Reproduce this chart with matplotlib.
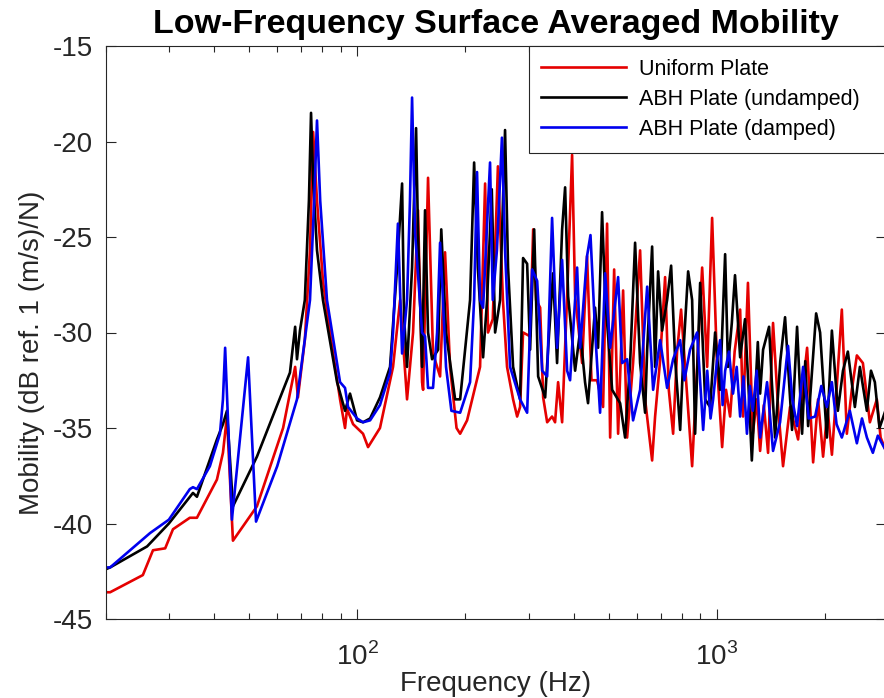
import matplotlib
matplotlib.use("Agg")
import matplotlib.pyplot as plt
from matplotlib.ticker import LogLocator, FixedLocator, FixedFormatter, NullFormatter

plt.rcParams['font.family'] = ['Liberation Sans', 'DejaVu Sans']
plt.rcParams['axes.unicode_minus'] = False
plt.rcParams['mathtext.fontset'] = 'custom'
plt.rcParams['mathtext.rm'] = 'Liberation Sans'

# frequency (Hz) / mobility (dB)
uniform_f = [20, 20.6, 25.4, 27.1, 29.3, 30.8, 34.3, 35.9, 40.8, 42.4, 43.5, 45.2, 52.7, 62.3, 67.3,
             68.5, 71.6, 74.0, 75.5, 77.4, 80.4, 84.1, 89.7, 92.6, 93.8, 97.5, 103.9, 107.3, 115.8,
             125.9, 131.7, 137.7, 143.1, 147.7, 151.6, 152.6, 157.5, 162.6, 170.1, 175.6, 181.3,
             189.0, 193.4, 202.2, 219.7, 226.9, 231.2, 238.3, 246.3, 254.3, 261.1, 271.4, 278.5,
             283.8, 289.3, 302.6, 308.6, 314.5, 322.7, 329.0, 337.5, 348.3, 355.0, 362.0, 371.4,
             383.5, 395.9, 403.6, 422.1, 435.6, 448.2, 464.5, 482.7, 495.2, 505.0, 518.1, 531.4,
             548.7, 562.9, 584.8, 611.7, 631.6, 660.6, 673.3, 695, 717.8, 735, 755.6, 775, 795.1,
             821, 853.3, 880, 909.8, 939.4, 969.7, 1001.3, 1033.9, 1060, 1088.1, 1120, 1160.2,
             1181.9, 1219.6, 1258.2, 1290, 1318.3, 1350, 1387.1, 1432.0, 1480, 1526.6, 1596.5,
             1681, 1730, 1780.7, 1850.7, 1910, 1972.4, 2030, 2087, 2150, 2223.7, 2296.3, 2370,
             2448.4, 2544.6, 2661.0, 2782, 2850, 2950]
uniform_db = [-43.6, -43.6, -42.7, -41.4, -41.3, -40.3, -39.7, -39.7, -37.7, -36.3, -34.4, -40.9,
              -39.1, -35.0, -31.8, -33.4, -30.4, -25.7, -19.5, -23.1, -27.3, -30.0, -33.5, -35.0,
              -34.0, -34.8, -35.3, -36.0, -35.0, -31.8, -28.3, -33.5, -30.0, -23.6, -32.6, -33.0,
              -21.9, -31.1, -32.3, -25.8, -31.8, -35.0, -35.3, -34.6, -31.8, -22.2, -30.0, -29.3,
              -21.3, -28.3, -31.8, -33.5, -34.4, -33.9, -30.0, -30.2, -24.6, -28.3, -28.7, -33.4,
              -34.7, -34.4, -34.7, -32.6, -34.7, -28.1, -20.7, -28.1, -31.6, -26.0, -32.5, -32.5,
              -33.9, -24.3, -35.5, -26.7, -35.3, -27.8, -35.5, -31.6, -25.7, -33.5, -36.7, -34.4,
              -31.5, -27.1, -33.0, -35.3, -31.0, -28.8, -32.5, -37.0, -32.0, -26.6, -31.8, -24.0,
              -31.8, -36.0, -33.0, -34.4, -31.0, -28.8, -34.4, -27.4, -35.3, -33.5, -36.2, -33.8,
              -36.3, -29.5, -34.0, -37.0, -33.9, -35.6, -33.0, -30.8, -36.8, -33.5, -36.5, -34.0,
              -36.4, -33.0, -28.8, -35.3, -33.0, -31.2, -31.6, -34.7, -33.5, -35.5, -36.2]

undamped_f = [20, 20.6, 26.1, 30.0, 35.0, 35.9, 40.8, 42.4, 43.5, 45.2, 52.7, 65.1, 67.3, 68.1,
              69.4, 71.6, 73.5, 74.5, 75.5, 77.4, 80.4, 88.0, 92.6, 95.6, 97.5, 100, 103.9, 108.7,
              115.8, 123.5, 129.2, 133.4, 135.1, 137.7, 142.2, 145.9, 147.7, 151.6, 154.5, 157.5,
              161.6, 168.0, 171.4, 176.7, 187.3, 193.4, 206.1, 211.5, 216.6, 224.0, 229.8, 236.8,
              241.9, 249.7, 257.8, 262.8, 271.4, 283.8, 289.3, 296.9, 302.6, 310.6, 318.6, 333.2,
              339.7, 350.5, 359.6, 371.4, 378.6, 386.0, 403.6, 416.8, 430.1, 438.4, 458.6, 467.5,
              479.6, 489.0, 511.5, 538.3, 555.7, 573.8, 592.4, 611.7, 631.6, 640.0, 660.6, 673.3,
              686.4, 704, 727.1, 746.0, 765.4, 790.4, 810, 831.8, 853.3, 869.8, 898.2, 927.4, 957.4,
              988.5, 1020, 1053.9, 1073.5, 1100, 1122.7, 1160.2, 1197, 1225, 1250.2, 1299.1, 1318.3,
              1343.6, 1396.1, 1420, 1450.8, 1500, 1546.5, 1617.1, 1670.0, 1724.5, 1760, 1792.2,
              1886.6, 1935.0, 2020.6, 2086.6, 2168.0, 2240, 2311.1, 2417.2, 2496.0, 2610, 2680,
              2747.0, 2830, 2950]
undamped_db = [-42.4, -42.3, -41.2, -40.0, -38.4, -38.6, -35.6, -34.8, -34.1, -39.1, -36.5, -32.1,
               -29.7, -31.4, -29.9, -28.3, -23.1, -18.5, -22.0, -25.7, -28.3, -32.6, -34.1, -33.2,
               -33.8, -34.6, -34.7, -34.5, -33.4, -31.8, -26.6, -22.2, -29.2, -31.8, -26.6, -19.3,
               -24.8, -31.8, -23.6, -30.0, -31.4, -30.9, -24.6, -30.0, -33.5, -33.5, -28.3, -21.1,
               -26.6, -31.3, -28.3, -22.5, -30.0, -28.3, -19.4, -26.6, -31.8, -33.5, -26.1, -26.4,
               -30.9, -24.6, -32.3, -33.4, -30.8, -26.9, -31.6, -24.6, -22.4, -28.1, -32.0, -29.9,
               -32.6, -33.7, -28.7, -30.8, -23.7, -28.1, -33.0, -33.7, -35.5, -31.6, -25.3, -31.6,
               -34.2, -30.9, -25.5, -31.8, -26.8, -29.9, -28.3, -26.5, -31.4, -35.1, -30.5, -26.8,
               -28.3, -35.3, -27.4, -33.5, -33.9, -30.0, -33.0, -25.9, -31.8, -29.5, -27.0, -31.3,
               -29.3, -33.0, -36.7, -30.5, -33.2, -30.9, -29.7, -32.5, -35.5, -31.5, -29.2, -35.1,
               -29.7, -35.3, -31.5, -34.9, -29.0, -30.0, -35.5, -29.9, -34.1, -32.0, -31.0, -33.9,
               -31.8, -34.1, -32.0, -32.6, -35.0, -34.0]

damped_f = [20, 20.6, 26.6, 30.0, 34.3, 35.0, 35.9, 39.0, 41.6, 42.4, 43.0, 44.9, 49.8, 52.4, 60.0,
            68.1, 74.0, 76.0, 77.4, 79.0, 82.5, 89.7, 92.6, 94.4, 100, 103.9, 108.7, 115.8, 123.5,
            125.9, 129.9, 133.4, 137.7, 140.3, 142.2, 145.0, 151.6, 154.5, 157.5, 162.6, 166.9,
            170.1, 172.6, 176.7, 182.9, 193.4, 206.1, 211.5, 215.5, 219.7, 224.0, 234.2, 238.3,
            244.7, 252.7, 257.8, 266.2, 283.8, 296.9, 306.6, 316.6, 326.9, 337.5, 348.3, 359.6,
            371.4, 383.5, 390.8, 408.8, 416.8, 435.6, 445.3, 458.6, 473.5, 489.0, 505.0, 531.4,
            545.2, 562.9, 584.8, 611.7, 640.0, 664.9, 695.3, 727.1, 755.6, 790.4, 812, 842, 881.0,
            915.7, 940, 960, 976.0, 1000, 1020.7, 1037, 1054, 1080, 1108.4, 1135, 1160.2, 1185,
            1211.8, 1235, 1258, 1290, 1318.3, 1378.2, 1432.0, 1497.7, 1576.1, 1620, 1670.0,
            1735.6, 1800, 1874.5, 1950, 2020.6, 2086.6, 2150, 2223.7, 2340.8, 2448.4, 2530,
            2610.7, 2712.2, 2800, 2950]
damped_db = [-42.3, -42.3, -40.5, -39.8, -38.2, -38.1, -38.2, -37.0, -35.3, -33.5, -30.8, -39.8,
             -31.3, -39.9, -37.0, -33.5, -28.3, -23.1, -18.9, -23.1, -28.3, -32.6, -32.9, -33.9,
             -34.5, -34.7, -34.6, -33.8, -32.1, -30.0, -24.3, -31.1, -28.3, -23.1, -17.7, -24.8,
             -30.0, -30.2, -32.9, -32.9, -30.0, -25.3, -27.6, -31.8, -34.1, -34.2, -32.6, -28.3,
             -21.6, -28.3, -28.7, -21.1, -28.3, -25.7, -19.8, -25.7, -31.8, -33.5, -34.2, -26.7,
             -27.3, -32.0, -32.3, -24.0, -30.8, -26.2, -32.0, -32.5, -26.6, -30.8, -26.0, -24.9,
             -29.9, -34.2, -26.9, -30.8, -27.1, -31.6, -31.4, -34.6, -33.0, -27.6, -33.0, -30.4,
             -32.9, -31.4, -30.4, -32.5, -30.9, -30.0, -35.1, -32.0, -34.5, -33.5, -31.5, -30.4,
             -33.8, -32.0, -31.0, -33.2, -31.8, -34.4, -32.3, -35.3, -32.8, -34.1, -32.0, -35.5,
             -32.6, -36.2, -34.7, -30.7, -33.5, -34.9, -31.8, -34.5, -34.4, -32.8, -33.9, -32.6,
             -34.8, -35.5, -34.1, -35.8, -34.5, -35.5, -36.3, -35.4, -36.2]

labels = ['Uniform Plate', 'ABH Plate (undamped)', 'ABH Plate (damped)']
colors = ['#e50000', '#000000', '#0000ee']
yticks = [-45, -40, -35, -30, -25, -20, -15]

fig = plt.figure(figsize=(8.84, 6.98), dpi=100)
ax = fig.add_axes([105.5 / 884, 79 / 698, 780.5 / 884, 573 / 698])

for f, db, lab, c in zip([uniform_f, undamped_f, damped_f],
                         [uniform_db, undamped_db, damped_db], labels, colors):
    ax.plot(f, db, color=c, lw=1.9, label=lab)

ax.set_xscale('log')
ax.set_xlim(20, 2950)
ax.set_ylim(-45, -15)
ax.set_yticks(yticks)
ax.set_yticklabels([str(v) for v in yticks])
ax.xaxis.set_major_locator(FixedLocator([100, 1000]))
ax.xaxis.set_major_formatter(FixedFormatter([r'$10^2$', r'$10^3$']))
ax.xaxis.set_minor_locator(LogLocator(base=10, subs=range(2, 10)))
ax.xaxis.set_minor_formatter(NullFormatter())

ax.tick_params(which='both', direction='in', top=True, right=True, colors='#262626',
               labelsize=20)
ax.tick_params(axis='y', pad=9)
ax.tick_params(axis='x', pad=17)
ax.tick_params(which='major', length=7, width=0.8)
ax.tick_params(which='minor', length=4, width=0.8)
for s in ax.spines.values():
    s.set_color('#262626')
    s.set_linewidth(0.8)

ax.set_xlabel('Frequency (Hz)', fontsize=20, color='#262626', labelpad=0)
ax.set_ylabel('Mobility (dB ref. 1 (m/s)/N)', fontsize=20, color='#262626')
ax.yaxis.set_label_coords(-0.0775, 0.464)
ax.set_title('Low-Frequency Surface Averaged Mobility', fontsize=24.5, fontweight='bold', pad=9)

# legend box runs off the right edge, as in the cropped original
leg = ax.legend(loc='upper left', bbox_to_anchor=(0.542, 0.0, 0.47, 1.0), mode='expand',
                fontsize=15.5, handlelength=3.95, handletextpad=0.56, labelspacing=0.42,
                borderaxespad=0.0, fancybox=False, framealpha=1.0, edgecolor='#262626',
                borderpad=0.6)
leg.get_frame().set_linewidth(0.8)
for line in leg.get_lines():
    line.set_linewidth(1.9)

fig.savefig('out.png', dpi=100)
